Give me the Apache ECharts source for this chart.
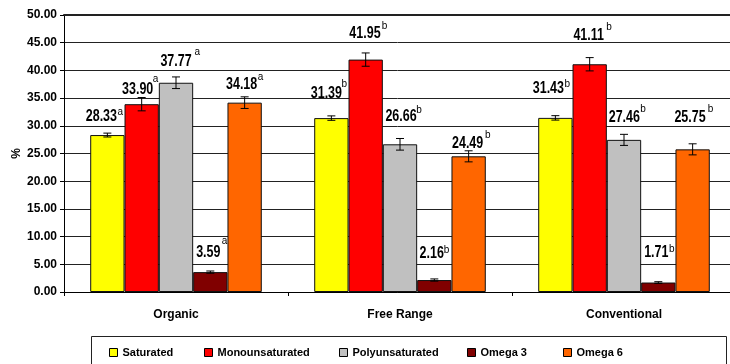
<!DOCTYPE html>
<html>
<head>
<meta charset="utf-8">
<script src="https://cdn.jsdelivr.net/npm/echarts@6/dist/echarts.min.js"></script>
<style>
  html, body { margin: 0; padding: 0; background: #fff; }
  #chart { width: 730px; height: 364px; }
</style>
</head>
<body>
<div id="chart"></div>
<script>
// Fatty acid composition by production system (% of total fatty acids)
const categories = ['Organic', 'Free Range', 'Conventional'];
const seriesNames = ['Saturated', 'Monounsaturated', 'Polyunsaturated', 'Omega 3', 'Omega 6'];

const saturated       = [28.33, 31.39, 31.43];
const monounsaturated = [33.90, 41.95, 41.11];
const polyunsaturated = [37.77, 26.66, 27.46];
const omega3          = [3.59, 2.16, 1.71];
const omega6          = [34.18, 24.49, 25.75];

// standard errors
const saturatedErr       = [0.35, 0.4, 0.4];
const monounsaturatedErr = [1.2, 1.2, 1.2];
const polyunsaturatedErr = [1.05, 1.05, 1.0];
const omega3Err          = [0.2, 0.2, 0.15];
const omega6Err          = [1.05, 1.0, 1.0];

// significance letters
const saturatedSig       = ['a', 'b', 'b'];
const monounsaturatedSig = ['a', 'b', 'b'];
const polyunsaturatedSig = ['a', 'b', 'b'];
const omega3Sig          = ['a', 'b', 'b'];
const omega6Sig          = ['a', 'b', 'b'];

const yTicks = [0, 5, 10, 15, 20, 25, 30, 35, 40, 45, 50];

// ---- styling ----
const colors = ['#FFFF00', '#FF0000', '#C0C0C0', '#800000', '#FF6600'];
const legendLeft = [109, 204, 339, 467, 563];
const catGapRatio = 0.234;

// label nudges (px): horizontal shift, lift above error bar, superscript gap and rise
const labelDx   = [[-6, -5, -7], [-4, -0.7, -1], [0, 1, 0.3], [-2, -2.6, -2], [-3, -1, -2.6]];
const labelLift = [[17, 22.6, 27.4], [7.5, 19.7, 22], [15, 21.8, 17], [18.3, 25, 29], [12, 7.5, 26.5]];
const supGap    = [[3.3, 2.3, 3.4], [2.3, 4, 5], [5.7, 2.3, 3], [4, 2.7, 3.3], [3.3, 4.6, 5]];
const supRise   = [[4, 9, 4], [11, 6.6, 8.4], [10, 6.7, 8.3], [11, 4, 3.7], [8, 8.3, 8.3]];

const values = [saturated, monounsaturated, polyunsaturated, omega3, omega6];
const errors = [saturatedErr, monounsaturatedErr, polyunsaturatedErr, omega3Err, omega6Err];
const sigs   = [saturatedSig, monounsaturatedSig, polyunsaturatedSig, omega3Sig, omega6Sig];

const FONT = '"Liberation Sans", Arial, sans-serif';
const numFont = 'bold 16px ' + FONT;
const numScale = 0.78;
const supFont = '10px ' + FONT;

const measureCtx = document.createElement('canvas').getContext('2d');
function textWidth(t, font) { measureCtx.font = font; return measureCtx.measureText(t).width; }

const chart = echarts.init(document.getElementById('chart'), null, { renderer: 'canvas' });

const barSeries = seriesNames.map((name, s) => ({
  name: name,
  type: 'bar',
  data: values[s],
  barGap: '0%',
  barCategoryGap: (catGapRatio * 100) + '%',
  itemStyle: { color: colors[s], borderColor: '#111', borderWidth: 1 },
  emphasis: { disabled: true },
  z: 2
}));

// error bars and value labels
const overlayData = [];
for (let s = 0; s < seriesNames.length; s++) {
  for (let c = 0; c < categories.length; c++) overlayData.push([c, s]);
}

const overlay = {
  type: 'custom',
  name: 'overlay',
  data: overlayData,
  encode: { x: 0 },
  z: 5,
  silent: true,
  renderItem: function (params, api) {
    const c = api.value(0), s = api.value(1);
    const v = values[s][c], e = errors[s][c];
    const band = api.size([1, 0])[0];
    const barW = band * (1 - catGapRatio) / seriesNames.length;
    const cx = api.coord([c, 0])[0] + (s - (seriesNames.length - 1) / 2) * barW;
    const yTop = api.coord([c, v + e])[1];
    const yBot = api.coord([c, v - e])[1];
    const cap = 4;
    const lineStyle = { stroke: '#000', lineWidth: 1 };
    const children = [
      { type: 'line', shape: { x1: cx, y1: yTop, x2: cx, y2: yBot }, style: lineStyle },
      { type: 'line', shape: { x1: cx - cap, y1: yTop, x2: cx + cap, y2: yTop }, style: lineStyle },
      { type: 'line', shape: { x1: cx - cap, y1: yBot, x2: cx + cap, y2: yBot }, style: lineStyle }
    ];
    const txt = v.toFixed(2);
    const lx = cx + labelDx[s][c];
    const ly = yTop - labelLift[s][c];
    const w = textWidth(txt, numFont) * numScale;
    children.push({
      type: 'text', x: lx, y: ly, scaleX: numScale,
      style: { text: txt, x: 0, y: 0, align: 'center', verticalAlign: 'middle', font: numFont, fill: '#000' }
    });
    children.push({
      type: 'text', x: lx + w / 2 + supGap[s][c], y: ly - supRise[s][c],
      style: { text: sigs[s][c], x: 0, y: 0, align: 'center', verticalAlign: 'middle', font: supFont, fill: '#000' }
    });
    return { type: 'group', children: children };
  }
};

const legends = seriesNames.map((name, s) => ({
  data: [name],
  left: legendLeft[s],
  top: 347,
  padding: 0,
  itemWidth: 8,
  itemHeight: 8,
  icon: 'rect',
  selectedMode: false,
  itemStyle: { borderColor: '#000', borderWidth: 1 },
  textStyle: { fontFamily: FONT, fontWeight: 'bold', fontSize: 11, color: '#000' }
}));

const option = {
  animation: false,
  backgroundColor: '#fff',
  grid: { left: 64, right: -6, top: 15, bottom: 72, containLabel: false, outerBoundsMode: 'none' },
  legend: legends,
  graphic: [{
    type: 'rect',
    shape: { x: 91.5, y: 336.5, width: 635, height: 40 },
    style: { fill: 'none', stroke: '#222', lineWidth: 1 },
    z: 1
  }],
  xAxis: [{
    type: 'category',
    data: categories,
    axisLine: { show: true, lineStyle: { color: '#000', width: 1 } },
    axisTick: { show: true, length: 4, lineStyle: { color: '#000' } },
    axisLabel: { margin: 17, fontFamily: FONT, fontWeight: 'bold', fontSize: 12, color: '#000' },
    splitLine: { show: false }
  }, {
    type: 'category',
    data: categories,
    position: 'top',
    axisLine: { show: true, lineStyle: { color: '#222', width: 2 } },
    axisTick: { show: false },
    axisLabel: { show: false },
    splitLine: { show: false }
  }],
  yAxis: {
    type: 'value',
    min: yTicks[0],
    max: yTicks[yTicks.length - 1],
    interval: yTicks[1] - yTicks[0],
    name: '%',
    nameLocation: 'middle',
    nameRotate: 90,
    nameGap: 41,
    nameMoveOverlap: false,
    nameTextStyle: { fontFamily: FONT, fontWeight: 'bold', fontSize: 12, color: '#000' },
    axisLine: { show: true, lineStyle: { color: '#000', width: 1 } },
    axisTick: { show: true, length: 4, lineStyle: { color: '#000' } },
    axisLabel: {
      margin: 7,
      fontFamily: FONT, fontWeight: 'bold', fontSize: 12, color: '#000',
      formatter: v => v.toFixed(2)
    },
    splitLine: { show: true, lineStyle: { color: '#222', width: 1 } }
  },
  series: barSeries.concat([overlay])
};

chart.setOption(option);
</script>
</body>
</html>
